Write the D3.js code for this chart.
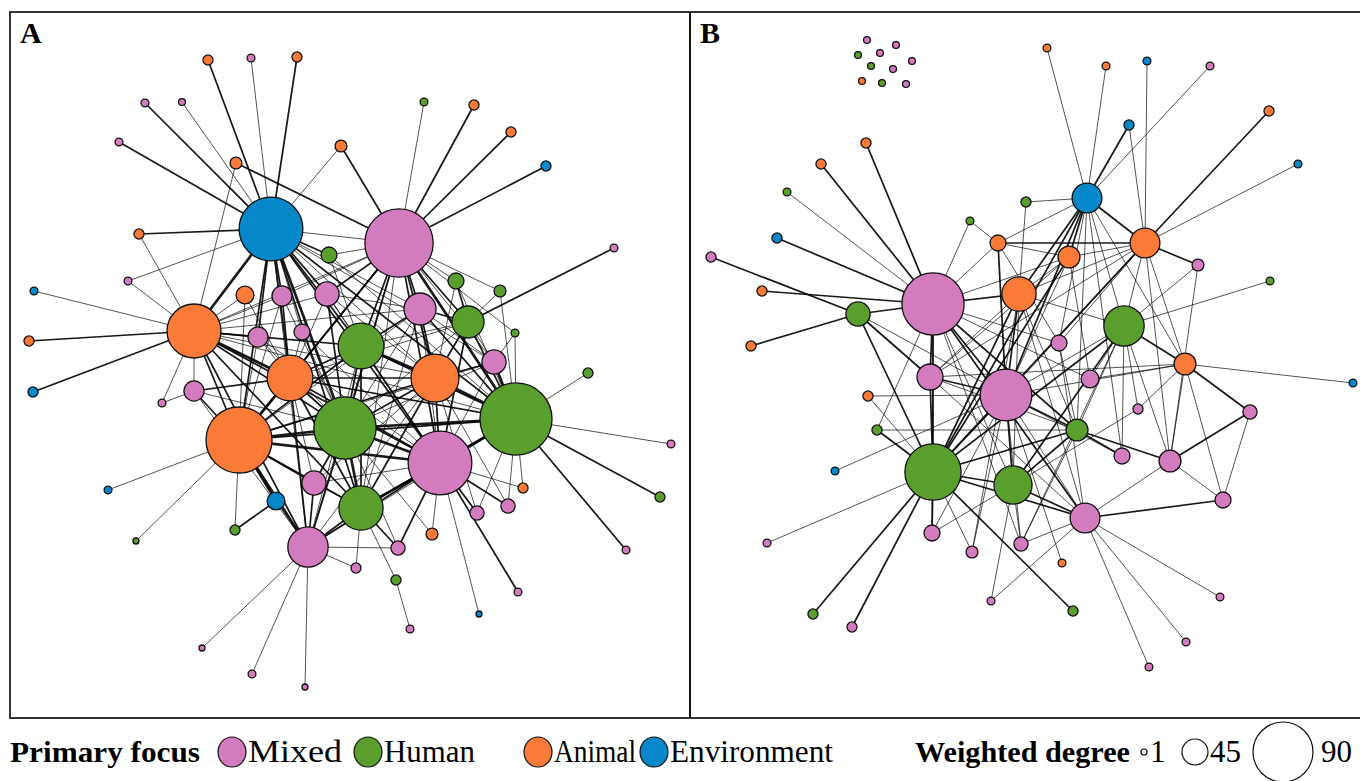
<!DOCTYPE html>
<html><head><meta charset="utf-8">
<script src="https://cdn.jsdelivr.net/npm/d3@7"></script>
<style>
html,body{margin:0;padding:0;background:#fff;}
svg{display:block;}
</style></head>
<body>
<svg id="chart" width="1360" height="781"></svg>
<script>
// ---------- DATA ----------
const focusCategories = ["Mixed", "Human", "Animal", "Environment"];
const sizeLegendValues = [1, 45, 90];
const panelLabels = ["A", "B"];

// nodes: [id, layoutX, layoutY, weightedDegree, primaryFocus]
const nodesA = [
  ["a1",261,217,95,"Environment"],["a2",389,231,101,"Mixed"],["a3",184,319,82,"Animal"],
  ["a4",229,428,98,"Animal"],["a5",351,334,71,"Human"],["a6",335,416,93,"Human"],
  ["a7",280,366,71,"Animal"],["a8",425,366,74,"Animal"],["a9",506,407,106,"Human"],
  ["a10",430,451,95,"Mixed"],["a11",351,496,69,"Human"],["a12",298,535,64,"Mixed"],
  ["a13",410,297,53,"Mixed"],["a14",458,310,53,"Human"],["a15",484,350,41,"Mixed"],
  ["a16",319,243,23,"Human"],["a17",235,283,27,"Animal"],["a18",272,284,32,"Mixed"],
  ["a19",317,282,41,"Mixed"],["a20",248,325,32,"Mixed"],["a21",292,320,23,"Mixed"],
  ["a22",184,379,32,"Mixed"],["a23",304,471,41,"Mixed"],["a24",266,489,27,"Environment"],
  ["a25",446,269,23,"Human"],["a26",490,279,14,"Human"],["a27",505,321,5,"Human"],
  ["a28",388,536,19,"Mixed"],["a29",346,556,10,"Mixed"],["a30",386,568,10,"Human"],
  ["a31",467,501,19,"Mixed"],["a32",498,494,19,"Mixed"],["a33",513,476,10,"Animal"],
  ["a34",422,522,14,"Animal"],["a35",225,518,10,"Human"],
  ["p1",198,48,10,"Animal"],["p2",241,46,5,"Mixed"],["p3",287,45,10,"Animal"],
  ["p4",135,91,5,"Mixed"],["p5",172,90,3,"Mixed"],["p6",109,130,5,"Mixed"],
  ["p7",226,151,14,"Animal"],["p8",331,134,14,"Animal"],["p9",414,90,5,"Human"],
  ["p10",464,93,10,"Animal"],["p11",501,120,10,"Animal"],["p12",536,154,10,"Environment"],
  ["p13",129,222,10,"Animal"],["p14",118,269,5,"Mixed"],["p15",24,279,5,"Environment"],
  ["p16",19,329,10,"Animal"],["p17",604,236,5,"Mixed"],["p18",23,380,10,"Environment"],
  ["p19",152,391,5,"Mixed"],["p20",578,361,10,"Human"],["p21",661,432,5,"Mixed"],
  ["p22",650,485,10,"Human"],["p23",98,478,5,"Environment"],["p24",126,529,1,"Human"],
  ["p25",616,538,5,"Mixed"],["p26",508,580,5,"Mixed"],["p27",400,617,5,"Mixed"],
  ["p28",469,602,1,"Environment"],["p29",192,636,1,"Mixed"],["p30",242,662,5,"Mixed"],
  ["p31",295,675,1,"Mixed"]
];

// edges: [source, target, weight]
const edgesA = [
  ["p1","a1",2],["p2","a1",1],["p3","a1",2],["p4","a1",2],["p5","a1",1],["p6","a1",2],
  ["p7","a2",2],["p7","a3",1],["p8","a2",2],["p8","a1",1],["p9","a2",1],["p10","a2",2],
  ["p11","a2",2],["p12","a2",2],["p13","a1",2],["p13","a3",1],["p14","a1",1],["p14","a3",1],
  ["p15","a3",1],["p16","a3",2],["p17","a14",2],["p18","a3",2],["p19","a22",1],["p19","a3",1],
  ["p20","a9",1],["p21","a9",1],["p22","a9",2],["p23","a4",1],["p24","a4",1],["p25","a9",2],
  ["p26","a10",2],["p27","a30",1],["p28","a10",1],["p29","a12",1],["p30","a12",1],["p31","a12",1],
  ["a35","a4",1],["a35","a24",2],
  ["a1","a2",1],["a1","a3",3],["a1","a4",2],["a1","a5",2],["a1","a6",3],["a1","a7",2],["a1","a8",1],
  ["a1","a9",2],["a1","a10",2],["a1","a11",2],["a1","a12",1],["a1","a16",2],["a1","a18",2],
  ["a1","a19",2],["a1","a20",2],["a1","a21",1],["a1","a13",1],["a1","a15",1],
  ["a2","a3",1],["a2","a4",2],["a2","a5",2],["a2","a6",2],["a2","a7",2],["a2","a8",2],["a2","a9",3],
  ["a2","a10",2],["a2","a11",1],["a2","a13",2],["a2","a14",2],["a2","a15",1],["a2","a25",1],
  ["a2","a26",1],["a2","a19",2],["a2","a18",1],["a2","a12",1],["a2","a16",1],["a2","a27",1],
  ["a3","a4",2],["a3","a5",2],["a3","a6",2],["a3","a7",3],["a3","a8",1],["a3","a9",1],["a3","a10",2],
  ["a3","a11",2],["a3","a12",2],["a3","a20",2],["a3","a22",1],["a3","a17",1],["a3","a18",1],
  ["a3","a19",1],["a3","a13",1],
  ["a4","a5",2],["a4","a6",3],["a4","a7",3],["a4","a8",2],["a4","a9",2],["a4","a10",3],["a4","a11",2],
  ["a4","a12",3],["a4","a22",2],["a4","a23",2],["a4","a24",3],["a4","a13",1],["a4","a15",1],
  ["a4","a20",1],["a4","a17",1],["a4","a18",1],
  ["a5","a6",2],["a5","a7",2],["a5","a8",3],["a5","a9",2],["a5","a10",2],["a5","a11",2],["a5","a12",1],
  ["a5","a13",2],["a5","a14",1],["a5","a19",1],["a5","a16",1],
  ["a6","a7",2],["a6","a8",2],["a6","a9",3],["a6","a10",3],["a6","a11",3],["a6","a12",2],["a6","a13",1],
  ["a6","a14",1],["a6","a15",1],["a6","a23",2],["a6","a28",1],["a6","a18",1],["a6","a19",2],
  ["a6","a20",1],["a6","a21",1],["a6","a22",1],["a6","a34",1],
  ["a7","a8",2],["a7","a9",2],["a7","a10",2],["a7","a11",2],["a7","a12",2],["a7","a14",1],["a7","a19",1],
  ["a7","a18",2],["a7","a21",1],["a7","a17",1],["a7","a20",1],["a7","a22",2],["a7","a23",1],
  ["a8","a9",3],["a8","a10",2],["a8","a11",2],["a8","a12",1],["a8","a13",2],["a8","a14",2],["a8","a15",2],
  ["a8","a25",1],["a8","a19",1],["a8","a23",1],["a8","a31",1],["a8","a32",1],
  ["a9","a10",3],["a9","a11",2],["a9","a12",1],["a9","a13",2],["a9","a14",2],["a9","a15",3],["a9","a26",1],
  ["a9","a27",1],["a9","a32",1],["a9","a33",1],["a9","a31",1],["a9","a16",1],["a9","a25",1],
  ["a10","a11",3],["a10","a12",2],["a10","a13",1],["a10","a14",2],["a10","a15",1],["a10","a28",2],
  ["a10","a31",2],["a10","a32",2],["a10","a34",1],["a10","a23",1],["a10","a19",1],["a10","a20",1],
  ["a10","a21",1],["a10","a33",1],
  ["a11","a12",2],["a11","a23",1],["a11","a28",2],["a11","a29",1],["a11","a30",1],["a11","a13",1],
  ["a12","a23",2],["a12","a24",1],["a12","a29",1],["a12","a28",1],["a12","a22",1],
  ["a13","a14",2],["a13","a15",1],["a13","a19",1],["a14","a15",1],["a14","a25",2],["a14","a26",1],
  ["a15","a27",1]
];

const nodesB = [
  ["b1",397,186,50,"Environment"],["b2",308,231,23,"Animal"],["b3",379,245,36,"Animal"],
  ["b4",455,231,50,"Animal"],["b5",508,253,14,"Mixed"],["b6",243,292,93,"Mixed"],
  ["b7",329,282,56,"Animal"],["b8",168,302,41,"Human"],["b9",434,314,64,"Human"],
  ["b10",369,331,23,"Mixed"],["b11",495,352,36,"Animal"],["b12",240,365,45,"Mixed"],
  ["b13",316,383,79,"Mixed"],["b14",400,367,27,"Mixed"],["b15",178,384,10,"Animal"],
  ["b16",187,418,10,"Human"],["b17",448,397,10,"Mixed"],["b18",560,400,19,"Mixed"],
  ["b19",387,418,36,"Human"],["b20",432,444,23,"Mixed"],["b21",480,449,36,"Mixed"],
  ["b22",243,460,85,"Human"],["b23",323,473,61,"Human"],["b24",533,488,23,"Mixed"],
  ["b25",395,506,50,"Mixed"],["b26",145,459,5,"Environment"],["b27",242,521,23,"Mixed"],
  ["b28",282,540,14,"Mixed"],["b29",331,532,19,"Mixed"],["b30",372,551,5,"Animal"],
  ["b31",280,209,5,"Human"],["b32",336,190,10,"Human"],
  ["q1",357,36,5,"Animal"],["q2",416,54,5,"Animal"],["q3",457,49,5,"Environment"],
  ["q4",520,54,5,"Mixed"],["q5",579,99,10,"Animal"],["q6",439,113,10,"Environment"],
  ["q7",608,152,5,"Environment"],["q8",176,131,10,"Animal"],["q9",131,152,10,"Animal"],
  ["q10",97,180,5,"Human"],["q11",87,226,10,"Environment"],["q12",21,245,10,"Mixed"],
  ["q13",72,279,10,"Animal"],["q14",61,334,10,"Animal"],["q15",580,269,5,"Human"],
  ["q16",663,371,5,"Environment"],["q17",77,531,5,"Mixed"],["q18",123,602,10,"Human"],
  ["q19",162,615,10,"Mixed"],["q20",301,589,5,"Mixed"],["q21",383,599,10,"Human"],
  ["q22",530,585,5,"Mixed"],["q23",496,630,5,"Mixed"],["q24",459,655,5,"Mixed"],
  ["i1",177,28,3,"Mixed"],["i2",206,33,3,"Mixed"],["i3",168,43,3,"Human"],
  ["i4",190,41,3,"Mixed"],["i5",222,49,3,"Mixed"],["i6",181,54,3,"Human"],
  ["i7",203,57,3,"Mixed"],["i8",172,69,3,"Animal"],["i9",192,71,3,"Human"],
  ["i10",216,72,3,"Mixed"]
];

const edgesB = [
  ["q1","b1",1],["q2","b1",1],["q3","b4",1],["q4","b1",1],["q5","b4",2],["q6","b1",2],["q6","b4",1],
  ["q7","b4",1],["q8","b6",2],["q9","b6",2],["q10","b6",1],["q11","b6",2],["q12","b8",2],["q13","b6",2],
  ["q14","b8",2],["q15","b9",1],["q16","b11",1],["q17","b22",1],["q18","b22",2],["q19","b22",2],
  ["q20","b23",1],["q20","b25",1],["q21","b22",2],["q22","b25",1],["q23","b25",1],["q24","b25",1],
  ["b31","b2",1],["b31","b6",1],["b32","b1",1],["b32","b7",1],["b26","b13",1],
  ["b6","b8",2],["b6","b2",1],["b6","b3",1],["b6","b7",2],["b6","b12",2],["b6","b13",2],["b6","b22",2],
  ["b6","b23",1],["b6","b19",2],["b6","b10",1],["b6","b14",1],["b6","b25",2],["b6","b27",1],
  ["b6","b16",1],["b6","b29",1],
  ["b8","b22",2],["b8","b12",2],["b8","b13",1],
  ["b1","b2",1],["b1","b3",2],["b1","b4",2],["b1","b7",2],["b1","b13",2],["b1","b22",2],["b1","b10",1],
  ["b1","b19",1],["b1","b9",1],["b1","b11",1],["b1","b20",1],
  ["b2","b4",2],["b2","b13",2],["b2","b10",1],["b2","b3",1],
  ["b3","b4",1],["b3","b7",1],["b3","b13",1],["b3","b22",2],["b3","b14",1],["b3","b12",1],
  ["b4","b7",1],["b4","b9",1],["b4","b5",2],["b4","b11",1],["b4","b21",1],["b4","b13",1],["b4","b22",2],
  ["b4","b12",1],["b4","b10",1],
  ["b5","b9",1],["b5","b21",1],
  ["b7","b13",2],["b7","b22",2],["b7","b23",1],["b7","b9",1],["b7","b12",1],["b7","b19",1],["b7","b25",1],
  ["b9","b11",2],["b9","b13",1],["b9","b14",1],["b9","b19",1],["b9","b23",2],["b9","b22",2],["b9","b20",1],
  ["b9","b21",1],["b9","b29",1],["b9","b17",1],
  ["b11","b14",1],["b11","b18",2],["b11","b21",1],["b11","b24",1],["b11","b12",1],["b11","b13",1],["b11","b17",1],
  ["b12","b22",2],["b12","b13",2],["b12","b19",1],["b12","b25",1],
  ["b15","b13",1],["b15","b22",1],["b16","b19",1],["b16","b22",2],
  ["b13","b22",2],["b13","b23",2],["b13","b19",2],["b13","b25",1],["b13","b20",1],["b13","b28",1],["b13","b27",1],
  ["b19","b22",2],["b19","b23",2],["b19","b20",2],["b19","b21",2],["b19","b29",1],["b19","b10",1],
  ["b21","b18",2],["b21","b24",1],["b21","b25",1],
  ["b22","b23",2],["b22","b27",2],["b22","b25",2],["b22","b28",1],
  ["b23","b29",1],["b23","b25",2],["b23","b27",1],["b23","b17",1],
  ["b25","b24",2],["b25","b29",1],["b18","b24",1],["b10","b25",1],["b30","b13",1],["b28","b7",1],["b29","b13",1]
];

// ---------- CHART ----------
const svg = d3.select("#chart");
const frame = {left: 10, top: 12, mid: 690, right: 1372, bottom: 718};

const color = d3.scaleOrdinal().domain(focusCategories)
  .range(["#D27BBF", "#5A9E2D", "#FA7B38", "#0587CA"]);
const rScale = d3.scaleLinear().domain([1, 45, 90]).range([3, 13, 30]);
const wScale = d3.scaleLinear().domain([1, 3]).range([0.75, 2.7]);

const panels = [
  {nodes: nodesA, edges: edgesA, x0: frame.left, x1: frame.mid, label: panelLabels[0]},
  {nodes: nodesB, edges: edgesB, x0: frame.mid, x1: frame.mid + 680, label: panelLabels[1]}
];

panels.forEach(p => {
  const x = d3.scaleLinear().domain([0, 680]).range([p.x0, p.x1]);
  const y = d3.scaleLinear().domain([0, 706]).range([frame.top, frame.bottom]);
  const byId = new Map(p.nodes.map(d => [d[0], d]));
  const g = svg.append("g");
  g.append("g").selectAll("line").data(p.edges).join("line")
    .attr("x1", e => x(byId.get(e[0])[1])).attr("y1", e => y(byId.get(e[0])[2]))
    .attr("x2", e => x(byId.get(e[1])[1])).attr("y2", e => y(byId.get(e[1])[2]))
    .attr("stroke", "#000").attr("stroke-opacity", 0.9)
    .attr("stroke-width", e => wScale(e[2]));
  const sorted = p.nodes.slice().sort((a, b) => a[3] - b[3]);
  g.append("g").selectAll("circle").data(sorted).join("circle")
    .attr("cx", d => x(d[1])).attr("cy", d => y(d[2]))
    .attr("r", d => rScale(d[3]))
    .attr("fill", d => color(d[4]))
    .attr("stroke", "#111").attr("stroke-width", 1.3);
  svg.append("text").attr("x", p.x0 + 10).attr("y", 43)
    .attr("font-family", "Liberation Serif, Times New Roman, serif")
    .attr("font-weight", "bold").attr("font-size", 30).text(p.label);
});

// frame
svg.append("rect").attr("x", frame.left).attr("y", frame.top)
  .attr("width", frame.right - frame.left).attr("height", frame.bottom - frame.top)
  .attr("fill", "none").attr("stroke", "#333").attr("stroke-width", 2);
svg.append("line").attr("x1", frame.mid).attr("x2", frame.mid)
  .attr("y1", frame.top).attr("y2", frame.bottom)
  .attr("stroke", "#111").attr("stroke-width", 2);

// legend
const serif = "Liberation Serif, Times New Roman, serif";
const ly = 752, lb = 762;
svg.append("text").attr("x", 10).attr("y", lb).attr("font-family", serif)
  .attr("font-weight", "bold").attr("font-size", 30)
  .attr("textLength", 190).attr("lengthAdjust", "spacingAndGlyphs").text("Primary focus");
const swatchX = [232, 368, 538, 654];
const labelW = [94, 91, 82, 163];
focusCategories.forEach((c, i) => {
  svg.append("ellipse").attr("cx", swatchX[i]).attr("cy", ly).attr("rx", 14).attr("ry", 15)
    .attr("fill", color(c)).attr("stroke", "#111").attr("stroke-width", 1.2);
  svg.append("text").attr("x", swatchX[i] + 16).attr("y", lb).attr("font-family", serif)
    .attr("font-size", 31).attr("textLength", labelW[i]).attr("lengthAdjust", "spacingAndGlyphs")
    .text(c);
});
svg.append("text").attr("x", 915).attr("y", lb).attr("font-family", serif)
  .attr("font-weight", "bold").attr("font-size", 30)
  .attr("textLength", 215).attr("lengthAdjust", "spacingAndGlyphs").text("Weighted degree");
const sizeX = [1144, 1195, 1283];
const sizeTx = [1150, 1210, 1321];
sizeLegendValues.forEach((v, i) => {
  svg.append("circle").attr("cx", sizeX[i]).attr("cy", ly).attr("r", rScale(v))
    .attr("fill", "none").attr("stroke", "#111").attr("stroke-width", 1.2);
  svg.append("text").attr("x", sizeTx[i]).attr("y", lb).attr("font-family", serif)
    .attr("font-size", 31).text(v);
});
</script>
</body></html>
